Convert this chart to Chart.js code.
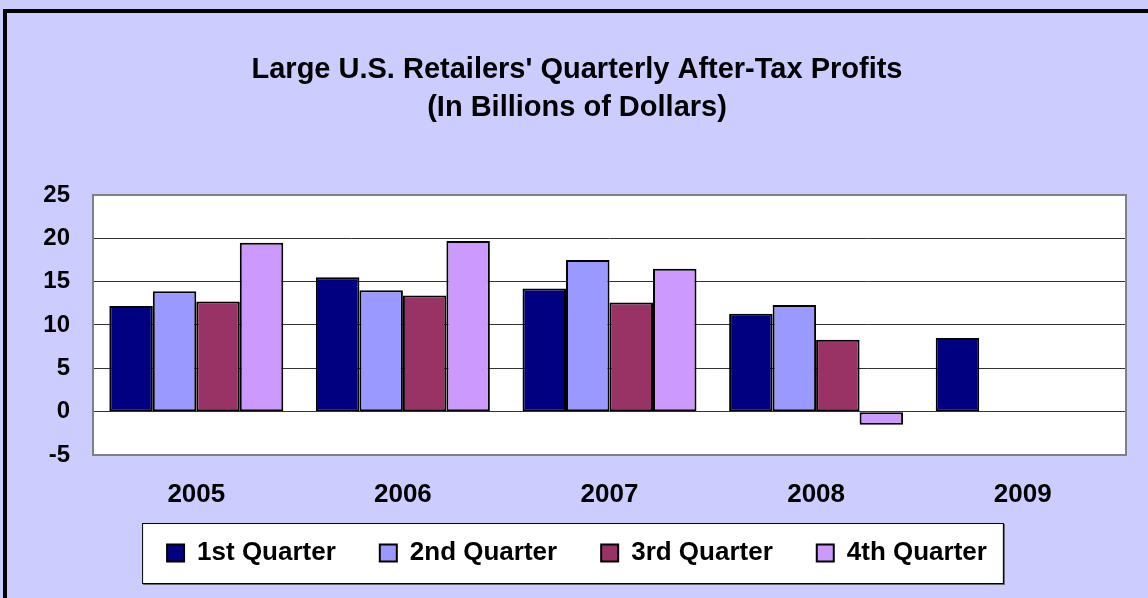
<!DOCTYPE html>
<html>
<head>
<meta charset="utf-8">
<script src="https://cdn.jsdelivr.net/npm/chart.js@4.4.1/dist/chart.umd.min.js"></script>
<style>
    html, body { margin: 0; padding: 0; background: #CCCCFF; overflow: hidden; }
</style>
</head>
<body>
<canvas id="chart" width="1148" height="598"></canvas>
<script>
const years = ['2005', '2006', '2007', '2008', '2009'];
const quarter1 = [12.2, 15.5, 14.2, 11.3, 8.5];
const quarter2 = [13.9, 14.0, 17.5, 12.3, null];
const quarter3 = [12.7, 13.4, 12.6, 8.3, null];
const quarter4 = [19.5, 19.7, 16.5, -1.5, null];
const quarterNames = ['1st Quarter', '2nd Quarter', '3rd Quarter', '4th Quarter'];
const quarterColors = ['#000080', '#9999FF', '#993366', '#CC99FF'];
const yMin = -5;
const yMax = 25;
const yStep = 5;

const fontFamily = '"Liberation Sans", Arial, sans-serif';

// background, outer frame, white plot area and legend box
const framePlugin = {
    id: 'frame',
    beforeDraw(chart) {
        const ctx = chart.ctx;
        const area = chart.chartArea;
        ctx.save();
        ctx.fillStyle = '#CCCCFF';
        ctx.fillRect(0, 0, chart.width, chart.height);
        ctx.strokeStyle = '#000';
        ctx.lineWidth = 4;
        ctx.strokeRect(5, 11, chart.width + 20, chart.height + 20);

        ctx.fillStyle = '#fff';
        ctx.fillRect(area.left, area.top, area.right - area.left, area.bottom - area.top);

        const boxes = chart.legend.legendHitBoxes;
        if (boxes && boxes.length) {
            const first = boxes[0];
            const last = boxes[boxes.length - 1];
            const midY = first.top + first.height / 2;
            const x0 = first.left - 25;
            const x1 = last.left + last.width + 16;
            ctx.fillStyle = '#fff';
            ctx.fillRect(x0, midY - 30, x1 - x0, 60);
            ctx.strokeStyle = '#666';
            ctx.lineWidth = 2;
            ctx.beginPath();
            ctx.moveTo(x0 + 1, midY + 31);
            ctx.lineTo(x1 + 1, midY + 31);
            ctx.lineTo(x1 + 1, midY - 29);
            ctx.stroke();
            ctx.strokeStyle = '#000';
            ctx.lineWidth = 1;
            ctx.strokeRect(x0 + 0.5, midY - 29.5, x1 - x0, 60);
        }
        ctx.restore();
    },
    afterDatasetsDraw(chart) {
        const ctx = chart.ctx;
        const area = chart.chartArea;
        ctx.save();
        ctx.strokeStyle = '#808080';
        ctx.lineWidth = 2;
        ctx.strokeRect(area.left, area.top, area.right - area.left, area.bottom - area.top);
        ctx.restore();
    }
};

const seriesData = [quarter1, quarter2, quarter3, quarter4];

const chart = new Chart(document.getElementById('chart').getContext('2d'), {
    type: 'bar',
    data: {
        labels: years,
        datasets: seriesData.map((values, i) => ({
            label: quarterNames[i],
            data: values,
            backgroundColor: quarterColors[i],
            borderColor: '#000',
            borderWidth: 2,
            borderSkipped: false,
            categoryPercentage: 0.842,
            barPercentage: 1.0
        }))
    },
    options: {
        responsive: false,
        animation: false,
        devicePixelRatio: 1,
        layout: {
            padding: { left: 14, right: 8, top: 0, bottom: 22 }
        },
        scales: {
            x: {
                grid: { display: false, drawTicks: false },
                border: { display: false },
                ticks: {
                    // mirrored so the year labels are not clipped to the short axis box
                    mirror: true,
                    color: '#000',
                    padding: -55,
                    font: { family: fontFamily, size: 26, weight: 'bold' }
                },
                afterFit(scale) { scale.height = 41; }
            },
            y: {
                min: yMin,
                max: yMax,
                border: { display: false },
                grid: {
                    color: '#333',
                    lineWidth: 1,
                    drawTicks: false
                },
                ticks: {
                    stepSize: yStep,
                    color: '#000',
                    padding: 23,
                    font: { family: fontFamily, size: 24, weight: 'bold' }
                },
                afterFit(scale) { scale.width = 79; }
            },
            yRight: {
                position: 'right',
                grid: { display: false },
                border: { display: false },
                ticks: { display: false },
                afterFit(scale) { scale.width = 14; }
            }
        },
        plugins: {
            title: {
                display: true,
                text: ["Large U.S. Retailers' Quarterly After-Tax Profits", '(In Billions of Dollars)'],
                color: '#000',
                font: { family: fontFamily, size: 29, weight: 'bold', lineHeight: 1.31 },
                padding: { top: 51, bottom: 68 }
            },
            legend: {
                position: 'bottom',
                labels: {
                    color: '#000',
                    boxWidth: 17,
                    boxHeight: 17,
                    padding: 44,
                    font: { family: fontFamily, size: 26, weight: 'bold' }
                }
            },
            tooltip: { enabled: false }
        }
    },
    plugins: [framePlugin]
});
</script>
</body>
</html>
